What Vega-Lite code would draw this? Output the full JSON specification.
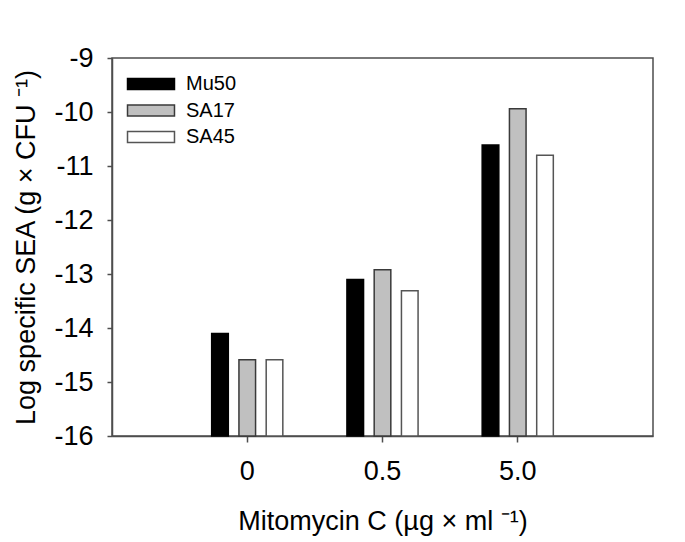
{
  "$schema": "https://vega.github.io/schema/vega-lite/v6.json",
  "width": 541,
  "height": 378,
  "autosize": {"type": "none"},
  "padding": {"left": 112, "top": 58, "right": 32, "bottom": 106},
  "background": "white",
  "data": {
    "values": [
      {"dose": "0", "strain": "Mu50", "value": -14.10},
      {"dose": "0", "strain": "SA17", "value": -14.59},
      {"dose": "0", "strain": "SA45", "value": -14.59},
      {"dose": "0.5", "strain": "Mu50", "value": -13.10},
      {"dose": "0.5", "strain": "SA17", "value": -12.92},
      {"dose": "0.5", "strain": "SA45", "value": -13.31},
      {"dose": "5.0", "strain": "Mu50", "value": -10.61},
      {"dose": "5.0", "strain": "SA17", "value": -9.94},
      {"dose": "5.0", "strain": "SA45", "value": -10.80}
    ]
  },
  "mark": {"type": "bar", "strokeWidth": 1.5},
  "encoding": {
    "x": {
      "field": "dose",
      "type": "nominal",
      "sort": ["0", "0.5", "5.0"],
      "scale": {"paddingInner": 0.474, "paddingOuter": 0.737},
      "axis": {
        "title": "Mitomycin C (µg × ml ⁻¹)",
        "labelAngle": 0,
        "labelFontSize": 27,
        "labelPadding": 16,
        "tickSize": 6,
        "titleFontSize": 27,
        "titlePadding": 24
      }
    },
    "xOffset": {
      "field": "strain",
      "type": "nominal",
      "sort": ["Mu50", "SA17", "SA45"],
      "scale": {"paddingInner": 0.39, "paddingOuter": 0}
    },
    "y": {
      "field": "value",
      "type": "quantitative",
      "scale": {"domain": [-16, -9], "zero": false, "nice": false},
      "axis": {
        "values": [-16, -15, -14, -13, -12, -11, -10, -9],
        "labelExpr": "'' + datum.value",
        "title": "Log specific SEA (g × CFU ⁻¹)",
        "grid": false,
        "labelFontSize": 27,
        "tickSize": 5,
        "labelPadding": 14,
        "titleFontSize": 27,
        "titlePadding": 13
      }
    },
    "y2": {"datum": -16},
    "fill": {
      "field": "strain",
      "type": "nominal",
      "scale": {"domain": ["Mu50", "SA17", "SA45"], "range": ["#000000", "#c0c0c0", "#ffffff"]}
    },
    "stroke": {
      "field": "strain",
      "type": "nominal",
      "scale": {"domain": ["Mu50", "SA17", "SA45"], "range": ["#000000", "#3a3a3a", "#555555"]}
    }
  },
  "config": {
    "font": "Liberation Sans",
    "view": {"stroke": "#4d4d4d", "strokeWidth": 1.5},
    "axis": {
      "labelFont": "Liberation Sans",
      "titleFont": "Liberation Sans",
      "labelColor": "#000000",
      "titleColor": "#000000",
      "titleFontWeight": "normal",
      "domainColor": "#4d4d4d",
      "domainWidth": 1.5,
      "tickColor": "#4d4d4d",
      "tickWidth": 1.5
    },
    "legend": {
      "orient": "none",
      "legendX": 29,
      "legendY": 16,
      "title": null,
      "padding": 0,
      "symbolType": "M-4.27,-1H4.27V1H-4.27Z",
      "symbolSize": 121,
      "symbolStrokeWidth": 1.5,
      "symbolOpacity": 1,
      "labelFont": "Liberation Sans",
      "labelFontSize": 20,
      "labelColor": "#000000",
      "labelOffset": 25,
      "rowPadding": 6.5
    }
  }
}
